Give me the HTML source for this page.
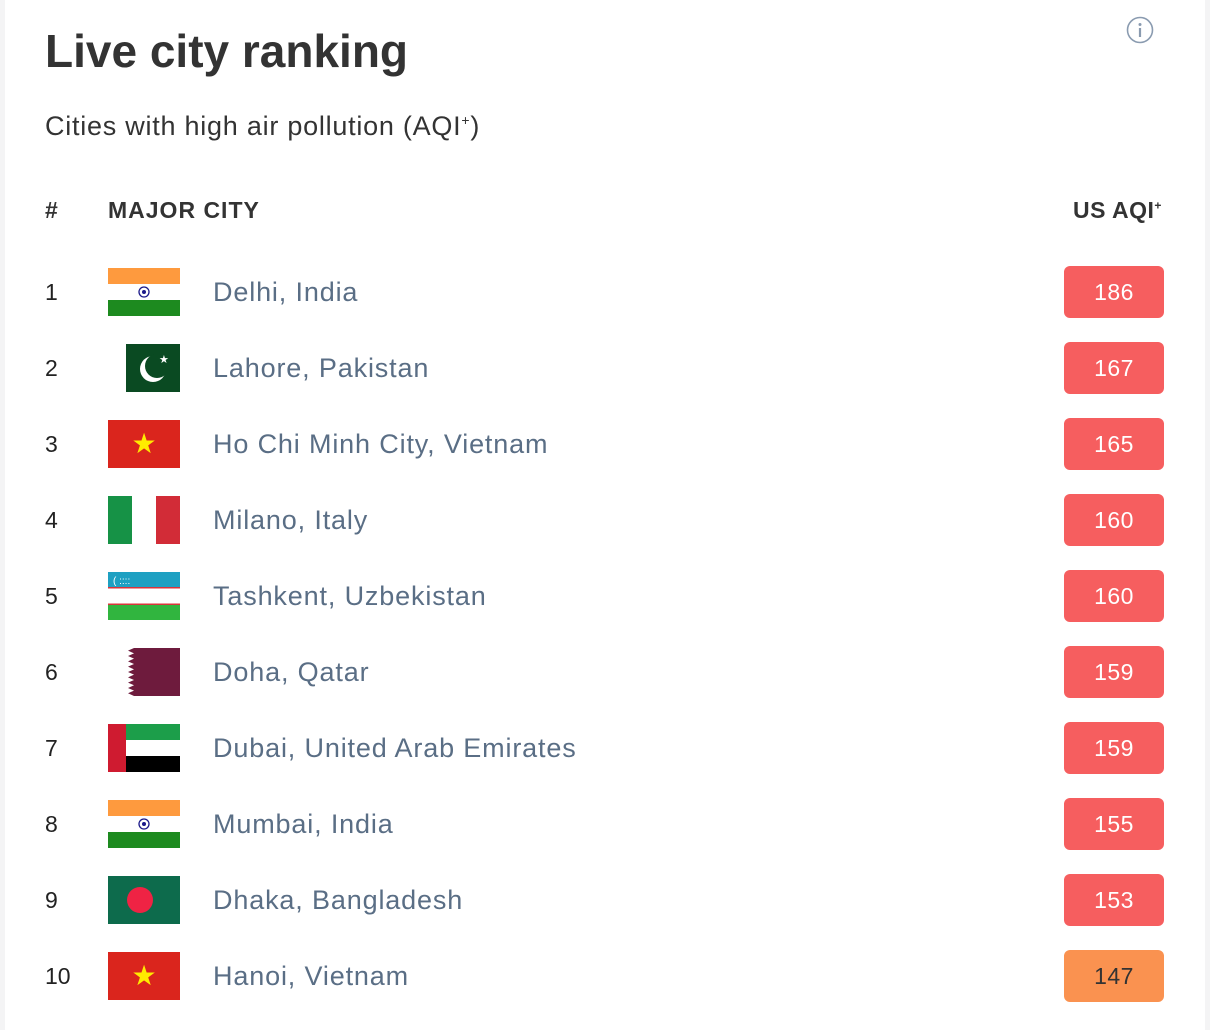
<!DOCTYPE html>
<html><head><meta charset="utf-8"><style>
body{margin:0;width:1210px;height:1030px;background:#f4f4f5;font-family:"Liberation Sans",sans-serif;overflow:hidden}
#card{position:absolute;left:5px;top:0;width:1200px;height:1030px;background:#fff}
.abs{position:absolute}
h1{position:absolute;left:40px;top:24px;margin:0;font-size:46px;font-weight:bold;color:#333;letter-spacing:0px}
.sub{left:40px;top:111px;font-size:27px;color:#333;letter-spacing:0.75px}
.hdr{top:197px;font-size:23px;font-weight:bold;color:#333;letter-spacing:1px}
.rank{left:40px;font-size:23px;color:#222;width:40px}
.city{left:208px;font-size:27px;color:#5a6e85;letter-spacing:0.85px}
.badge{left:1059px;width:100px;height:52px;border-radius:6px;font-size:23px;text-align:center;line-height:52px;color:#fff;letter-spacing:0.5px}
</style></head><body>
<div id="card">
<h1>Live city ranking</h1>
<svg class="abs" style="left:1121px;top:16px" width="28" height="28"><circle cx="14" cy="14" r="12.5" fill="none" stroke="#8a9bb0" stroke-width="1.6"/><circle cx="14" cy="8.5" r="1.5" fill="#8a9bb0"/><rect x="12.9" y="12" width="2.2" height="9" fill="#8a9bb0"/></svg>
<div class="abs sub">Cities with high air pollution (AQI<sup style="font-size:14px">+</sup>)</div>
<div class="abs hdr" style="left:40px">#</div>
<div class="abs hdr" style="left:103px">MAJOR CITY</div>
<div class="abs hdr" style="left:1068px;letter-spacing:0.5px">US AQI<sup style="font-size:12px">+</sup></div>
<div id="rows"></div>
</div>
<script>
const cities=["Delhi, India","Lahore, Pakistan","Ho Chi Minh City, Vietnam","Milano, Italy","Tashkent, Uzbekistan","Doha, Qatar","Dubai, United Arab Emirates","Mumbai, India","Dhaka, Bangladesh","Hanoi, Vietnam"];
const flags=["in","pk","vn","it","uz","qa","ae","in","bd","vn"];
const aqi=[186,167,165,160,160,159,159,155,153,147];
function flagSvg(f){
 switch(f){
 case"in":return`<rect width="72" height="16" fill="#fe9a3e"/><rect y="16" width="72" height="16" fill="#fff"/><rect y="32" width="72" height="16" fill="#1d8a1f"/><circle cx="36" cy="24" r="5" fill="none" stroke="#1c1a8a" stroke-width="1.3"/><circle cx="36" cy="24" r="2" fill="#1c1a8a"/>`;
 case"pk":return`<rect x="18" width="54" height="48" fill="#0a4a22"/><circle cx="45" cy="25" r="13" fill="#fff"/><circle cx="49" cy="22" r="12" fill="#0a4a22"/><text x="51" y="19" font-size="11" fill="#fff">★</text>`;
 case"vn":return`<rect width="72" height="48" fill="#da251d"/><text x="36" y="33" font-size="28" fill="#ffec00" text-anchor="middle">★</text>`;
 case"it":return`<rect width="24" height="48" fill="#169246"/><rect x="24" width="24" height="48" fill="#fff"/><rect x="48" width="24" height="48" fill="#d22c37"/>`;
 case"uz":return`<rect width="72" height="15" fill="#1ea0c2"/><rect y="15" width="72" height="1.5" fill="#d9343a"/><rect y="16.5" width="72" height="15" fill="#fff"/><rect y="31.5" width="72" height="1.5" fill="#d9343a"/><rect y="33" width="72" height="15" fill="#31b53f"/><text x="5" y="12" font-size="10" fill="#fff">( ::::</text>`;
 case"qa":return`<rect x="26" width="46" height="48" fill="#6e1b3d"/><path d="M26 0 ${Array.from({length:9},(_,i)=>`L20 ${i*5.33+2.67} L26 ${(i+1)*5.33}`).join(' ')} Z" fill="#6e1b3d"/>`;
 case"ae":return`<rect width="72" height="16" fill="#1c9e4a"/><rect y="16" width="72" height="16" fill="#fff"/><rect y="32" width="72" height="16" fill="#000"/><rect width="18" height="48" fill="#cf1b30"/>`;
 case"bd":return`<rect width="72" height="48" fill="#0d6b4c"/><circle cx="32" cy="24" r="13" fill="#ef2344"/>`;
 }
}
const rows=document.getElementById('rows');
cities.forEach((c,i)=>{
 const cy=292+i*76;
 const r=document.createElement('div');r.className='abs rank';r.style.top=(cy-13)+'px';r.textContent=i+1;
 
 
 rows.appendChild(r);
 const f=document.createElementNS('http://www.w3.org/2000/svg','svg');
 f.setAttribute('width','72');f.setAttribute('height','48');f.setAttribute('class','abs');
 f.style.left='103px';f.style.top=(cy-24)+'px';f.innerHTML=flagSvg(flags[i]);
 
 
 rows.appendChild(f);
 const n=document.createElement('div');n.className='abs city';n.style.top=(cy-15)+'px';n.textContent=c;
 
 
 rows.appendChild(n);
 const b=document.createElement('div');b.className='abs badge';b.style.top=(cy-26)+'px';b.textContent=aqi[i];
 b.style.background=aqi[i]>150?'#f65e5f':'#fa9250';
 b.style.color=aqi[i]>150?'#fff':'#333';
 
 
 rows.appendChild(b);
});
</script>
</body></html>
